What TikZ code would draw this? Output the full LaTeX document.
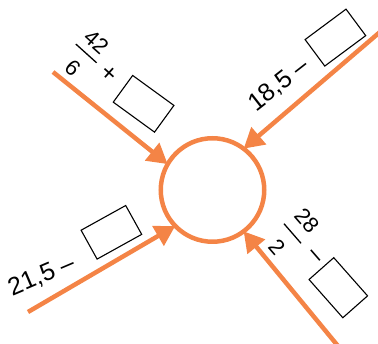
\documentclass[tikz,border=0pt]{standalone}
\usepackage{fontspec}
\setmainfont{Liberation Sans}
\usetikzlibrary{arrows.meta}
\definecolor{org}{RGB}{244,132,70}
\begin{document}
\begin{tikzpicture}[x=1pt,y=-1pt,
  arr/.style={draw=org, line width=4.5pt, -{Triangle[length=20pt,width=22pt]}},
  ring/.style={circle, draw=org, line width=4.5pt, minimum size=103.5pt, inner sep=0pt, outer sep=0pt},
  ansbox/.style={draw=black, line width=1.1pt, minimum width=51pt, minimum height=33pt, inner sep=0pt},
  big/.style={font=\fontsize{25}{30}\selectfont, inner sep=0pt},
  fr/.style={font=\fontsize{22}{26}\selectfont, inner sep=0pt},
  fbar/.style={line width=1.3pt}]
\useasboundingbox (0,0) rectangle (378,344);
% central ring
\node[ring] (c) at (212.5,190) {};
% arrow start points
\coordinate (s1) at (53,72);
\coordinate (s2) at (380,32);
\coordinate (s3) at (28,312);
\coordinate (s4) at (338,346);
\draw[arr] (s1) -- (c.150.5);
\draw[arr] (s2) -- (c.53.1);
\draw[arr] (s3) -- (c.224.4);
\draw[arr] (s4) -- (c.307.9);
% arm 1: 42/6 + box
\begin{scope}[shift={(86.2,53.4)}, rotate=-42, transform shape]
  \node[fr] (n1) at (0,-15) {42};
  \node[fr] (d1) at (0,19.5) {6};
  \draw[fbar] (-14,0) -- (14,0);
\end{scope}
\node[big, rotate=-42] (p1) at (109,74) {+};
\node[ansbox, rotate=-36] (b1) at (143.6,103.8) {};
% arm 2: 18,5 - box
\node[big, rotate=38] (t2) at (279,85) {18,5 –};
\node[ansbox, rotate=36.6] (b2) at (335.4,37.6) {};
% arm 3: 21,5 - box
\node[big, rotate=23] (t3) at (41.5,276) {21,5 –};
\node[ansbox, rotate=29] (b3) at (111.4,232.3) {};
% arm 4: 28/2 - box
\begin{scope}[shift={(292.5,233.5)}, rotate=-49, transform shape]
  \node[fr] (n4) at (0,-19) {28};
  \node[fr] (d4) at (0,20) {2};
  \draw[fbar] (-13,0) -- (13,0);
\end{scope}
\node[big, rotate=-49] (m4) at (314,257.5) {–};
\node[ansbox, rotate=-48.5] (b4) at (338.3,287.7) {};
\end{tikzpicture}
\end{document}
